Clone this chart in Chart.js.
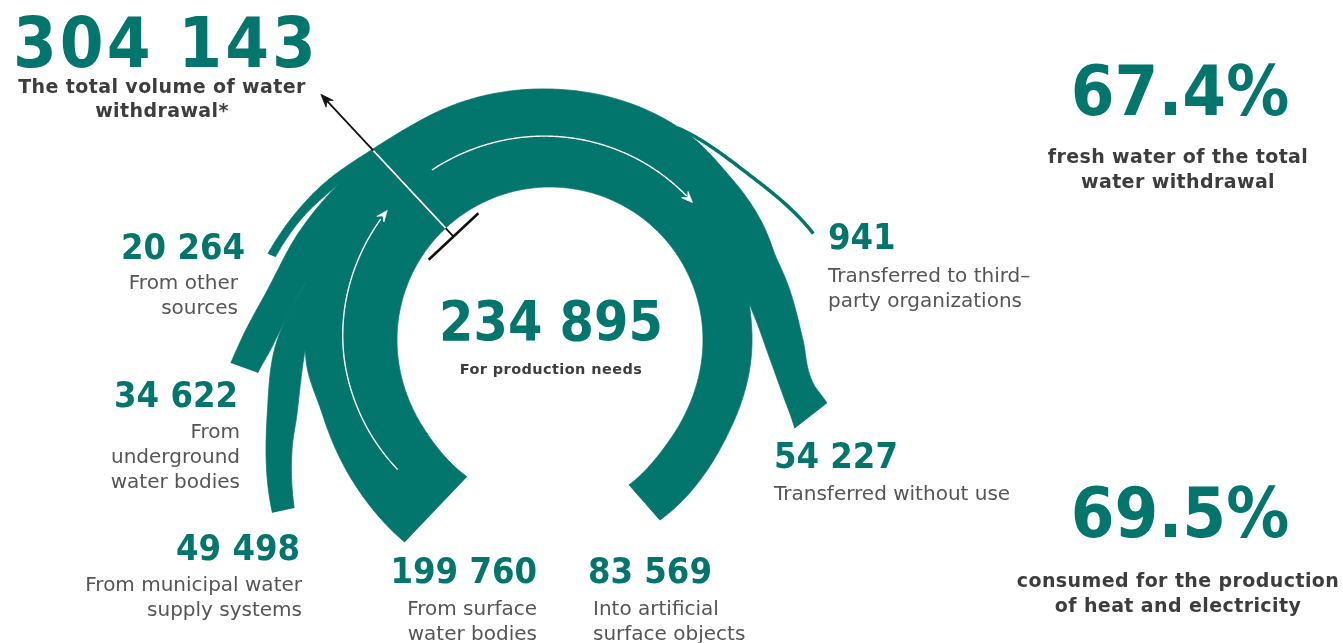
<!DOCTYPE html>
<html lang="en">
<head>
<meta charset="utf-8">
<title>Water withdrawal</title>
<script src="https://cdn.jsdelivr.net/npm/chart.js@4.4.1/dist/chart.umd.min.js"></script>
<style>
html,body{margin:0;padding:0;background:#fff;overflow:hidden;}
#wrap{position:relative;width:1343px;height:643px;overflow:hidden;}
#chart{position:absolute;left:0;top:0;}
.t{position:absolute;white-space:pre;line-height:1.2;}
.mk{display:inline-block;width:0;height:0;vertical-align:baseline;}
.num{font-family:"DejaVu Sans Condensed","DejaVu Sans",sans-serif;font-stretch:condensed;font-weight:700;color:#02756c;}
.wide{letter-spacing:3px;}
.bold{font-family:"DejaVu Sans",sans-serif;font-weight:700;color:#3d3d3d;letter-spacing:0.4px;}
.reg{font-family:"DejaVu Sans",sans-serif;font-weight:400;color:#555555;}
</style>
</head>
<body>
<div id="wrap"><canvas id="chart" width="1343" height="643"></canvas></div>
<script>
// ---------------- DATA ----------------
const sourceLabels = ["From surface\nwater bodies", "From municipal water\nsupply systems", "From\nunderground\nwater bodies", "From other\nsources"];
const sourceValues = [199760, 49498, 34622, 20264];
const outputLabels = ["Transferred to third\u2013\nparty organizations", "Transferred without use", "Into artificial\nsurface objects"];
const outputValues = [941, 54227, 83569];
const totalLabel = "The total volume of water\nwithdrawal*";
const totalValue = 304143;
const productionLabel = "For production needs";
const productionValue = 234895;
const shareLabels = ["fresh water of the total\nwater withdrawal", "consumed for the production\nof heat and electricity"];
const shareValues = [67.4, 69.5];

// ---------------- LAYOUT (flow paths in polar form: [angle deg clockwise from top, radius px]) ----------------
const TEAL = '#02756c';
const CX = 550, CY = 340;
const mainOuter = [[-144.3,249],[-125.3,242.5],[-107.8,239.4],[-96.3,244.5],[-92.3,245],[-76,250],[-53,253],[-36,255],[0,251],[33.5,248],[48.8,243],[68,240.5],[77,203],[90.8,202],[114.4,201],[148.6,211]];
const mainInner = [[-148.8,160],[-124,154],[-90,153],[0,153],[90,153],[130,156],[151.4,165]];
const municipalOuter = [[-121.9,327],[-104.5,292],[-91.5,275],[-76,250],[-60,242]];
const municipalInner = [[-123.3,306],[-112.5,279],[-106,263],[-92.3,245],[-80,238],[-60,236]];
const undergroundOuter = [[-94.1,320],[-91.2,312],[-80,287],[-66.5,273],[-53,262],[-40,253]];
const undergroundInner = [[-96.4,294],[-91.4,278],[-76,250],[-60,240],[-40,240]];
const otherOuter = [[-73,295],[-57,277],[-42.3,260],[-20,252]];
const otherInner = [[-73.2,287],[-64.4,277],[-53.2,262],[-40,250],[-20,246]];
const unusedOuter = [[60,241],[68,240.5],[76.5,244],[90,253],[99.3,266.5],[102.8,284]];
const unusedInner = [[60,220],[70,210],[77,202],[86.7,209.3],[95.6,222],[103.3,239.4],[109.8,260]];
const thirdPartyPath = [[31,247.5],[50,258.5],[68,284]];
const leftArrowPath = [[-130.4,200],[-110,204],[-92,207],[-70,208],[-54.5,208]];
const leftArrowTip = [-51.5,208];
const topArrowPath = [[-34.8,207],[-2,204],[25,201],[43.5,198.5]];
const topArrowTip = [46,198];
const totalMarkAngle = -43, totalMarkIn = 141.5, totalMarkBandIn = 153, totalMarkBandOut = 259, totalMarkTip = 336;

// ---------------- helpers ----------------
function pt(phi, r){ const a = phi*Math.PI/180; return {x: CX + r*Math.sin(a), y: CY - r*Math.cos(a)}; }
function mono(ctrl){
  const n = ctrl.length, xs = ctrl.map(p=>p[0]), ys = ctrl.map(p=>p[1]);
  const d = [], m = new Array(n);
  for (let i=0;i<n-1;i++) d.push((ys[i+1]-ys[i])/(xs[i+1]-xs[i]));
  m[0] = d[0]; m[n-1] = d[n-2];
  for (let i=1;i<n-1;i++) m[i] = (d[i-1]*d[i] <= 0) ? 0 : (d[i-1]+d[i])/2;
  for (let i=0;i<n-1;i++){
    if (d[i] === 0){ m[i]=0; m[i+1]=0; continue; }
    const a = m[i]/d[i], b = m[i+1]/d[i], s = a*a+b*b;
    if (s > 9){ const t = 3/Math.sqrt(s); m[i] = t*a*d[i]; m[i+1] = t*b*d[i]; }
  }
  return function(x){
    let i = 0; while (i < n-2 && x > xs[i+1]) i++;
    const h = xs[i+1]-xs[i], t = (x-xs[i])/h, t2=t*t, t3=t2*t;
    return (2*t3-3*t2+1)*ys[i] + (t3-2*t2+t)*h*m[i] + (-2*t3+3*t2)*ys[i+1] + (t3-t2)*h*m[i+1];
  };
}
function edge(ctrl){
  const f = mono(ctrl), a0 = ctrl[0][0], a1 = ctrl[ctrl.length-1][0];
  const steps = Math.max(2, Math.ceil(Math.abs(a1-a0)/0.75));
  const out = [];
  for (let k=0;k<=steps;k++){ const a = a0 + (a1-a0)*k/steps; out.push(pt(a, f(a))); }
  return out;
}
function bandPts(outer, inner){ return edge(outer).concat(edge(inner).reverse()); }
const lineBase = {showLine:true, pointRadius:0, clip:false, tension:0.0001, borderJoinStyle:'round'};
function area(label, points, color){ return Object.assign({label, data: points, fill:'shape', backgroundColor:color, borderColor:color, borderWidth:0.8}, lineBase); }
function path(label, points, color, width){ return Object.assign({label, data: points, fill:false, borderColor:color, borderWidth:width, borderCapStyle:'butt'}, lineBase); }
function arrowHead(phi, r, L, W){
  const a = phi*Math.PI/180;
  const P = pt(phi, r);
  const T = {x: Math.cos(a), y: Math.sin(a)};
  const N = {x: Math.sin(a), y: -Math.cos(a)};
  const back = {x: P.x - L*T.x, y: P.y - L*T.y};
  const notch = {x: P.x - 0.62*L*T.x, y: P.y - 0.62*L*T.y};
  return [P, {x: back.x + W*N.x, y: back.y + W*N.y}, notch, {x: back.x - W*N.x, y: back.y - W*N.y}, P];
}
function radialHead(phi, r, L, W){
  const a = phi*Math.PI/180;
  const P = pt(phi, r);
  const U = {x: Math.sin(a), y: -Math.cos(a)};
  const N = {x: Math.cos(a), y: Math.sin(a)};
  const back = {x: P.x - L*U.x, y: P.y - L*U.y};
  const notch = {x: P.x - 0.7*L*U.x, y: P.y - 0.7*L*U.y};
  return [P, {x: back.x + W*N.x, y: back.y + W*N.y}, notch, {x: back.x - W*N.x, y: back.y - W*N.y}, P];
}
function barPts(){
  const c = pt(totalMarkAngle, totalMarkIn), a = totalMarkAngle*Math.PI/180;
  const N = {x: Math.cos(a), y: Math.sin(a)};
  return [{x: c.x - 34*N.x, y: c.y - 34*N.y}, {x: c.x + 34*N.x, y: c.y + 34*N.y}];
}

// ---------------- datasets (listed bottom -> top) ----------------
const drawList = [
  area(sourceLabels[3], bandPts(otherOuter, otherInner), TEAL),
  area(sourceLabels[2], bandPts(undergroundOuter, undergroundInner), TEAL),
  area(sourceLabels[1], bandPts(municipalOuter, municipalInner), TEAL),
  area(sourceLabels[0], bandPts(mainOuter, mainInner), TEAL),
  area(outputLabels[1], bandPts(unusedOuter, unusedInner), TEAL),
  path(outputLabels[0], edge(thirdPartyPath), TEAL, 3.5),
  path('flow in', edge(leftArrowPath), '#ffffff', 1.4),
  area('flow in head', arrowHead(leftArrowTip[0], leftArrowTip[1], 11, 4.5), '#ffffff'),
  path('flow top', edge(topArrowPath), '#ffffff', 1.4),
  area('flow top head', arrowHead(topArrowTip[0], topArrowTip[1], 11, 4.5), '#ffffff'),
  path('total mark', [pt(totalMarkAngle, totalMarkIn), pt(totalMarkAngle, totalMarkTip - 8)], '#111111', 1.8),
  path('total mark in band', [pt(totalMarkAngle, totalMarkBandIn), pt(totalMarkAngle, totalMarkBandOut)], '#ffffff', 1.8),
  area('total mark head', radialHead(totalMarkAngle, totalMarkTip, 13, 5), '#111111'),
  path('total mark bar', barPts(), '#111111', 2.6)
];
// Chart.js paints lower dataset indices on top, so reverse the bottom->top list
const datasets = drawList.slice().reverse();

new Chart(document.getElementById('chart'), {
  type: 'scatter',
  data: { datasets },
  options: {
    responsive: false, animation: false, events: [],
    layout: { padding: 0 },
    scales: {
      x: { type: 'linear', min: 0, max: 1343, display: false },
      y: { type: 'linear', min: 0, max: 643, reverse: true, display: false }
    },
    plugins: { legend: { display: false }, tooltip: { enabled: false } },
    elements: { point: { radius: 0 } }
  }
});

// ---------------- text ----------------
const fmt = n => String(n).replace(/\B(?=(\d{3})+(?!\d))/g, ' ');
const pct = v => v.toFixed(1) + '%';
const texts = [];
texts.push({s: fmt(totalValue), c:'num wide', f:70, x:13, b:67, a:'left'});
texts.push({s: totalLabel, c:'bold', f:19, x:162, b:93, a:'center', lh:24});
texts.push({s: fmt(productionValue), c:'num', f:55, x:551, b:340, a:'center'});
texts.push({s: productionLabel, c:'bold', f:14.5, x:551, b:374, a:'center'});
const srcNumPos = [[537,583],[300,560],[238,407],[245,259]];
const srcLblPos = [[537,615],[302,591],[240,438],[238,289]];
sourceValues.forEach((v,i)=>{
  texts.push({s: fmt(v), c:'num', f:36, x:srcNumPos[i][0], b:srcNumPos[i][1], a:'right'});
  texts.push({s: sourceLabels[i], c:'reg', f:20, x:srcLblPos[i][0], b:srcLblPos[i][1], a:'right', lh:25});
});
const outNumPos = [[828,249],[774,468],[588,583]];
const outLblPos = [[828,282],[774,500],[593,615]];
outputValues.forEach((v,i)=>{
  texts.push({s: fmt(v), c:'num', f:36, x:outNumPos[i][0], b:outNumPos[i][1], a:'left'});
  texts.push({s: outputLabels[i], c:'reg', f:20, x:outLblPos[i][0], b:outLblPos[i][1], a:'left', lh:25});
});
const shareNumPos = [[1180,115],[1180,537]];
const shareLblPos = [[1178,163],[1178,587]];
shareValues.forEach((v,i)=>{
  texts.push({s: pct(v), c:'num', f:70, x:shareNumPos[i][0], b:shareNumPos[i][1], a:'center'});
  texts.push({s: shareLabels[i], c:'bold', f:19, x:shareLblPos[i][0], b:shareLblPos[i][1], a:'center', lh:25});
});

const wrap = document.getElementById('wrap');
function place(e){
  e.s.split('\n').forEach((line, i)=>{
    const d = document.createElement('div');
    d.className = 't ' + e.c;
    d.style.fontSize = e.f + 'px';
    d.appendChild(document.createTextNode(line));
    const mk = document.createElement('span'); mk.className = 'mk'; d.appendChild(mk);
    wrap.appendChild(d);
    const base = e.b + i*(e.lh || 0);
    d.style.top = (base - mk.offsetTop) + 'px';
    const w = d.getBoundingClientRect().width;
    const left = e.a === 'left' ? e.x : (e.a === 'right' ? e.x - w : e.x - w/2);
    d.style.left = left + 'px';
  });
}
function placeAll(){ texts.forEach(place); }
if (document.fonts && document.fonts.ready) { document.fonts.ready.then(placeAll); } else { placeAll(); }
</script>
</body>
</html>
